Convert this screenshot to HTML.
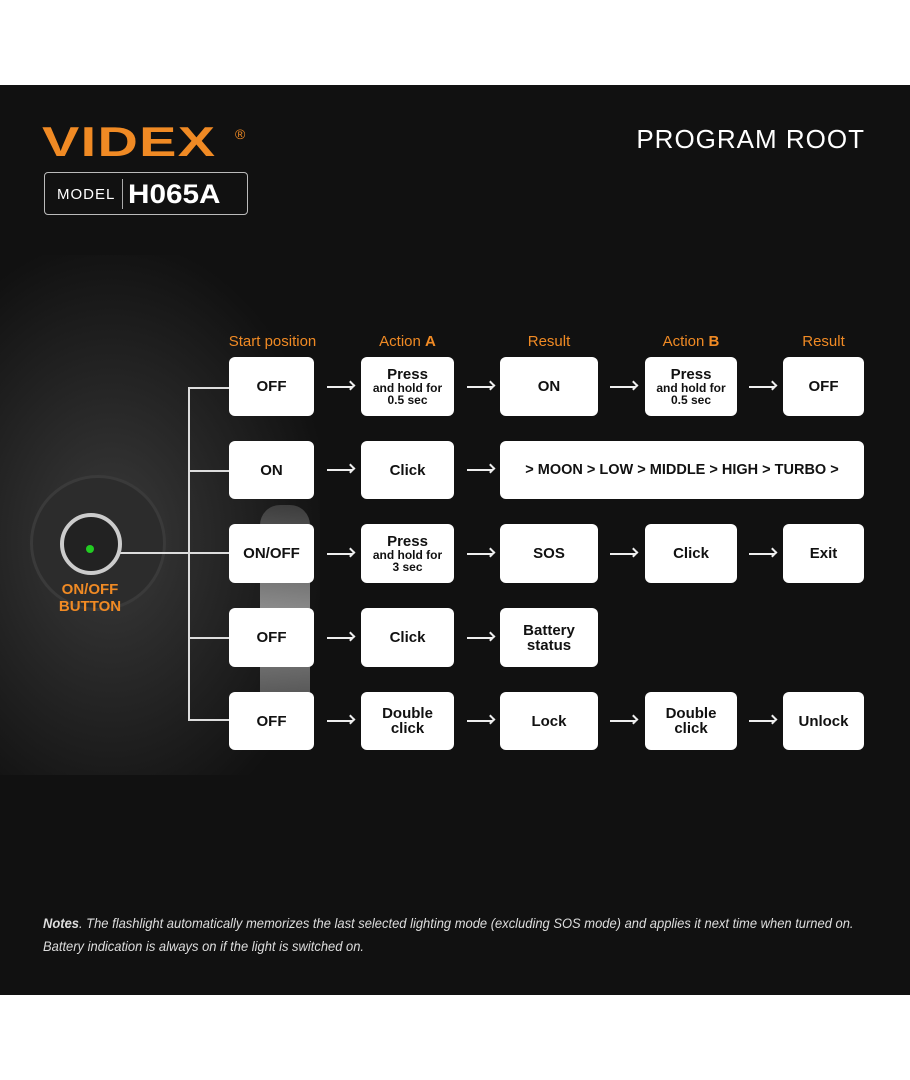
<!DOCTYPE html>
<html><head><style>
body{margin:0;width:910px;height:1080px;background:#fff;position:relative;font-family:"Liberation Sans",sans-serif;overflow:hidden}
#bg{position:absolute;left:0;top:85px;width:910px;height:910px;background:#111;overflow:hidden}
.b{position:absolute;background:#fff;border-radius:6px;color:#111;font-weight:bold;display:flex;flex-direction:column;align-items:center;justify-content:center;text-align:center;font-size:15px;line-height:15px}
.b small{font-size:12px;line-height:12px}
.h{position:absolute;color:#f08a24;font-size:15px;top:333px;text-align:center}
.h b{font-weight:bold}
.ar{position:absolute;height:2px;width:26px;background:#eee}
.ar:after{content:"";position:absolute;right:-1px;top:-4px;width:7px;height:7px;border-right:2px solid #eee;border-top:2px solid #eee;transform:rotate(45deg);box-sizing:border-box}
.l{position:absolute;background:#ddd}
</style></head><body>
<div id="bg">
<div style="position:absolute;left:-60px;top:170px;width:380px;height:520px;background:radial-gradient(ellipse at 45% 55%,#3a3a3a 0%,#242424 40%,#111 75%);"></div>
<div style="position:absolute;left:260px;top:420px;width:50px;height:220px;background:linear-gradient(#555,#ddd,#666);opacity:.6;border-radius:20px"></div>
<div style="position:absolute;left:30px;top:390px;width:130px;height:130px;border-radius:50%;background:#2c2c2c;border:3px solid #3a3a3a"></div>
</div>
<div style="position:absolute;left:42px;top:118px;color:#f08a24;font-weight:bold;font-size:42px;letter-spacing:1px;transform:scaleX(1.33);transform-origin:left;line-height:48px">VIDEX</div>
<div style="position:absolute;left:235px;top:126px;color:#f08a24;font-size:14px">®</div>
<div style="position:absolute;left:44px;top:172px;width:202px;height:41px;border:1px solid #bbb;border-radius:4px;color:#fff">
<span style="position:absolute;left:12px;top:13px;font-size:15px;letter-spacing:1px">MODEL</span>
<span style="position:absolute;left:77px;top:6px;width:1px;height:30px;background:#aaa"></span>
<span style="position:absolute;left:83px;top:6px;font-size:27px;font-weight:bold;transform:scaleX(1.1);transform-origin:left">H065A</span></div>
<div style="position:absolute;right:45px;top:124px;color:#fff;font-size:26px;letter-spacing:1px">PROGRAM ROOT</div>

<div class="h" style="left:215px;width:115px">Start position</div>
<div class="h" style="left:361px;width:93px">Action <b>A</b></div>
<div class="h" style="left:500px;width:98px">Result</div>
<div class="h" style="left:645px;width:92px">Action <b>B</b></div>
<div class="h" style="left:783px;width:81px">Result</div>

<div class="l" style="left:188px;top:387px;width:2px;height:334px"></div>
<div class="l" style="left:188px;top:387px;width:41px;height:2px"></div>
<div class="l" style="left:188px;top:470px;width:41px;height:2px"></div>
<div class="l" style="left:188px;top:637px;width:41px;height:2px"></div>
<div class="l" style="left:188px;top:719px;width:41px;height:2px"></div>
<div class="l" style="left:100px;top:552px;width:129px;height:2px"></div>
<div style="position:absolute;left:60px;top:513px;width:62px;height:62px;border-radius:50%;background:#222;border:4px solid #ccc;box-sizing:border-box"></div>
<div style="position:absolute;left:86px;top:545px;width:8px;height:8px;border-radius:50%;background:#2c2"></div>
<div style="position:absolute;left:40px;top:581px;width:100px;text-align:center;color:#f08a24;font-weight:bold;font-size:15px;line-height:17px">ON/OFF<br>BUTTON</div>

<div class="b" style="left:229px;top:357px;width:85px;height:59px">OFF</div>
<div class="b" style="left:361px;top:357px;width:93px;height:59px">Press<small>and hold for<br>0.5 sec</small></div>
<div class="b" style="left:500px;top:357px;width:98px;height:59px">ON</div>
<div class="b" style="left:645px;top:357px;width:92px;height:59px">Press<small>and hold for<br>0.5 sec</small></div>
<div class="b" style="left:783px;top:357px;width:81px;height:59px">OFF</div>
<div class="b" style="left:229px;top:441px;width:85px;height:58px">ON</div>
<div class="b" style="left:361px;top:441px;width:93px;height:58px">Click</div>
<div class="b" style="left:500px;top:441px;width:364px;height:58px;font-size:14.5px">&gt; MOON &gt; LOW &gt; MIDDLE &gt; HIGH &gt; TURBO &gt;</div>
<div class="b" style="left:229px;top:524px;width:85px;height:59px">ON/OFF</div>
<div class="b" style="left:361px;top:524px;width:93px;height:59px">Press<small>and hold for<br>3 sec</small></div>
<div class="b" style="left:500px;top:524px;width:98px;height:59px">SOS</div>
<div class="b" style="left:645px;top:524px;width:92px;height:59px">Click</div>
<div class="b" style="left:783px;top:524px;width:81px;height:59px">Exit</div>
<div class="b" style="left:229px;top:608px;width:85px;height:59px">OFF</div>
<div class="b" style="left:361px;top:608px;width:93px;height:59px">Click</div>
<div class="b" style="left:500px;top:608px;width:98px;height:59px">Battery<br>status</div>
<div class="b" style="left:229px;top:692px;width:85px;height:58px">OFF</div>
<div class="b" style="left:361px;top:692px;width:93px;height:58px">Double<br>click</div>
<div class="b" style="left:500px;top:692px;width:98px;height:58px">Lock</div>
<div class="b" style="left:645px;top:692px;width:92px;height:58px">Double<br>click</div>
<div class="b" style="left:783px;top:692px;width:81px;height:58px">Unlock</div>

<div class="ar" style="left:327px;top:386px"></div><div class="ar" style="left:467px;top:386px"></div><div class="ar" style="left:610px;top:386px"></div><div class="ar" style="left:749px;top:386px"></div>
<div class="ar" style="left:327px;top:469px"></div><div class="ar" style="left:467px;top:469px"></div>
<div class="ar" style="left:327px;top:553px"></div><div class="ar" style="left:467px;top:553px"></div><div class="ar" style="left:610px;top:553px"></div><div class="ar" style="left:749px;top:553px"></div>
<div class="ar" style="left:327px;top:637px"></div><div class="ar" style="left:467px;top:637px"></div>
<div class="ar" style="left:327px;top:720px"></div><div class="ar" style="left:467px;top:720px"></div><div class="ar" style="left:610px;top:720px"></div><div class="ar" style="left:749px;top:720px"></div>

<div style="position:absolute;left:43px;top:912px;width:930px;color:#ddd;font-style:italic;font-size:14px;line-height:23px;transform:scaleX(0.925);transform-origin:left;white-space:nowrap"><b>Notes</b>. The flashlight automatically memorizes the last selected lighting mode (excluding SOS mode) and applies it next time when turned on.<br>Battery indication is always on if the light is switched on.</div>
</body></html>
